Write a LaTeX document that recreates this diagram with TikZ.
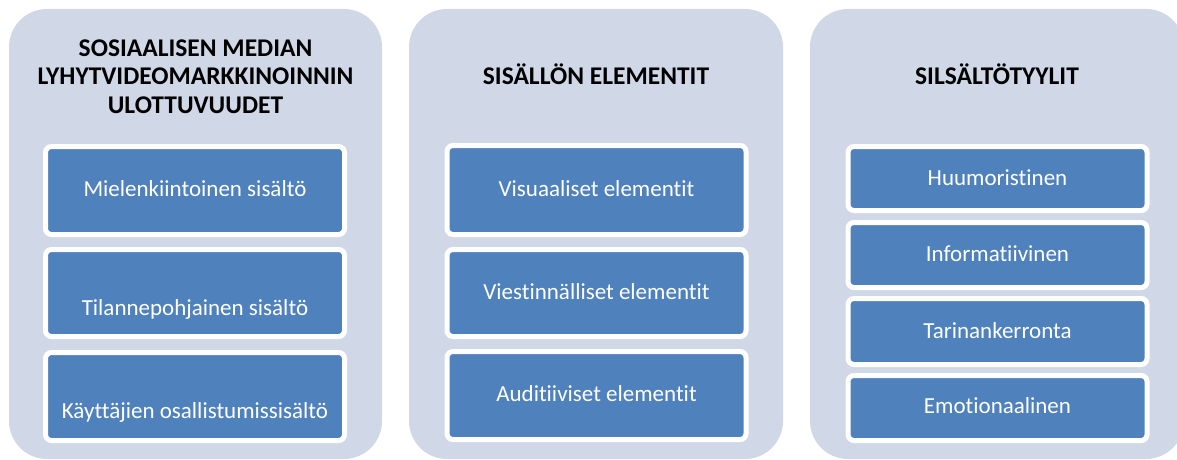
\documentclass[tikz,border=0pt]{standalone}
\usepackage{fontspec}
\setmainfont{Carlito}[Ligatures=NoCommon]
\definecolor{panelfill}{RGB}{208,216,232}
\definecolor{boxblue}{RGB}{79,129,189}
\begin{document}
\begin{tikzpicture}[x=1pt,y=-1pt,
  panel/.style={fill=panelfill, rounded corners=38pt, minimum width=374pt, minimum height=450pt, inner sep=0pt},
  box/.style={fill=boxblue, draw=white, line width=5pt, rounded corners=6pt, minimum width=299pt, inner sep=0pt},
  boxtext/.style={anchor=base, text=white, inner sep=0pt, font=\fontsize{23}{27}\selectfont},
  title/.style={align=center, inner sep=0pt, font=\fontsize{25.5}{28.5}\selectfont\bfseries}]
\useasboundingbox (0,0) rectangle (1177,460);
% panels
\node[panel, minimum width=373pt] (p1) at (195.5,234) {};
\node[panel] (p2) at (596,234) {};
\node[panel] (p3) at (997,234) {};
% titles
\node[title] (h1) at (195.5,76.7) {SOSIAALISEN MEDIAN\\LYHYTVIDEOMARKKINOINNIN\\ULOTTUVUUDET};
\node[title, anchor=base] (h2) at (596,84) {SISÄLLÖN ELEMENTIT};
\node[title, anchor=base] (h3) at (997,84) {SILSÄLTÖTYYLIT};
% panel 1 boxes
\node[box, minimum height=88pt] (a1) at (195,190.5) {};
\node[box, minimum height=87pt] (a2) at (195,293) {};
\node[box, minimum height=88pt] (a3) at (195,396.5) {};
\node[boxtext] (ta1) at (195,196.7) {Mielenkiintoinen sisältö};
\node[boxtext] (ta2) at (195,315) {Tilannepohjainen sisältö};
\node[boxtext] (ta3) at (195,418) {Käyttäjien osallistumissisältö};
% panel 2 boxes
\node[box, minimum height=89pt] (b1) at (596.5,190) {};
\node[box, minimum height=87pt] (b2) at (596.5,293) {};
\node[box, minimum height=88pt] (b3) at (596.5,395.5) {};
\node[boxtext] (tb1) at (596.5,196.7) {Visuaaliset elementit};
\node[boxtext] (tb2) at (596.5,299.3) {Viestinnälliset elementit};
\node[boxtext] (tb3) at (596.5,401.7) {Auditiiviset elementit};
% panel 3 boxes
\node[box, minimum height=64pt] (c1) at (997.5,178.5) {};
\node[box, minimum height=65pt] (c2) at (997.5,255) {};
\node[box, minimum height=66pt] (c3) at (997.5,331.5) {};
\node[box, minimum height=65pt] (c4) at (997.5,408) {};
\node[boxtext] (tc1) at (997.5,185) {Huumoristinen};
\node[boxtext] (tc2) at (997.5,261.7) {Informatiivinen};
\node[boxtext] (tc3) at (997.5,338.3) {Tarinankerronta};
\node[boxtext] (tc4) at (997.5,413.3) {Emotionaalinen};
\end{tikzpicture}
\end{document}
